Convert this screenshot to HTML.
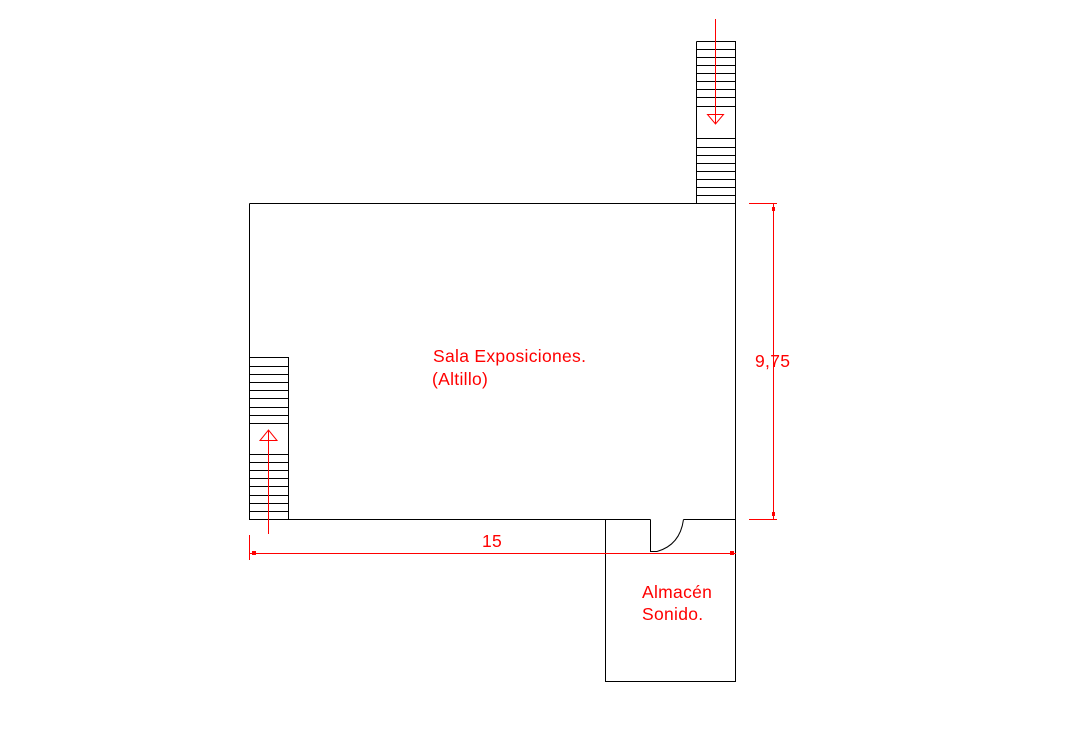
<!DOCTYPE html>
<html><head><meta charset="utf-8"><style>body{margin:0;background:#fff}svg{display:block}</style></head>
<body>
<svg width="1069" height="729" viewBox="0 0 1069 729" xmlns="http://www.w3.org/2000/svg" shape-rendering="crispEdges">
<g stroke="#000" stroke-width="1" fill="none">
<path d="M249.5 203.5 H735.5 V519.5 M249.5 203.5 V519.5 H650.5 M683.5 519.5 H735.5"/>
<path d="M650.5 519.5 V551.5 H657"/>
<path d="M657 551.5 Q680 545 683.5 519.5" shape-rendering="auto"/>
<path d="M605.5 519.5 V681.5 H735.5 V519.5"/>
<path d="M696.5 41.5 H735.5 V203.5 M696.5 41.5 V203.5"/>
<path d="M696 49.5H736M696 57.5H736M696 65.5H736M696 73.5H736M696 81.5H736M696 89.5H736M696 97.5H736M696 106.5H736M696 138.5H736M696 147.5H736M696 155.5H736M696 163.5H736M696 171.5H736M696 179.5H736M696 187.5H736M696 195.5H736"/>
<path d="M249.5 357.5 H288.5 V519.5"/>
<path d="M249 366.5H289M249 374.5H289M249 382.5H289M249 390.5H289M249 398.5H289M249 407.5H289M249 415.5H289M249 423.5H289M249 454.5H289M249 462.5H289M249 470.5H289M249 478.5H289M249 486.5H289M249 495.5H289M249 503.5H289M249 511.5H289"/>
</g>
<g stroke="#f00" stroke-width="1" fill="none">
<path d="M715.5 19 V124"/>
<path d="M707.5 114.5 H723.5 L715.5 124 Z" shape-rendering="auto"/>
<path d="M268.5 534 V430"/>
<path d="M260 440.5 H277 L268.5 430 Z" shape-rendering="auto"/>
<path d="M249.5 535 V560 M249 553.5 H736"/>
<path d="M749 203.5 H777 M773.5 203 V519 M749 519.5 H777"/>
</g>
<g fill="#f00">
<rect x="730" y="551" width="4" height="4"/>
<rect x="252" y="551" width="4" height="4"/>
<rect x="772" y="207" width="3" height="4"/>
<rect x="772" y="512" width="3" height="4"/>
</g>
<g fill="#f00" font-family="Liberation Sans, sans-serif" font-size="17.5" letter-spacing="0.3">
<text x="433" y="362">Sala Exposiciones.</text>
<text x="432" y="385">(Altillo)</text>
<text x="482" y="547">15</text>
<text x="755" y="367">9,75</text>
<text x="642" y="598">Almacén</text>
<text x="642" y="620">Sonido.</text>
</g>
</svg>
</body></html>
